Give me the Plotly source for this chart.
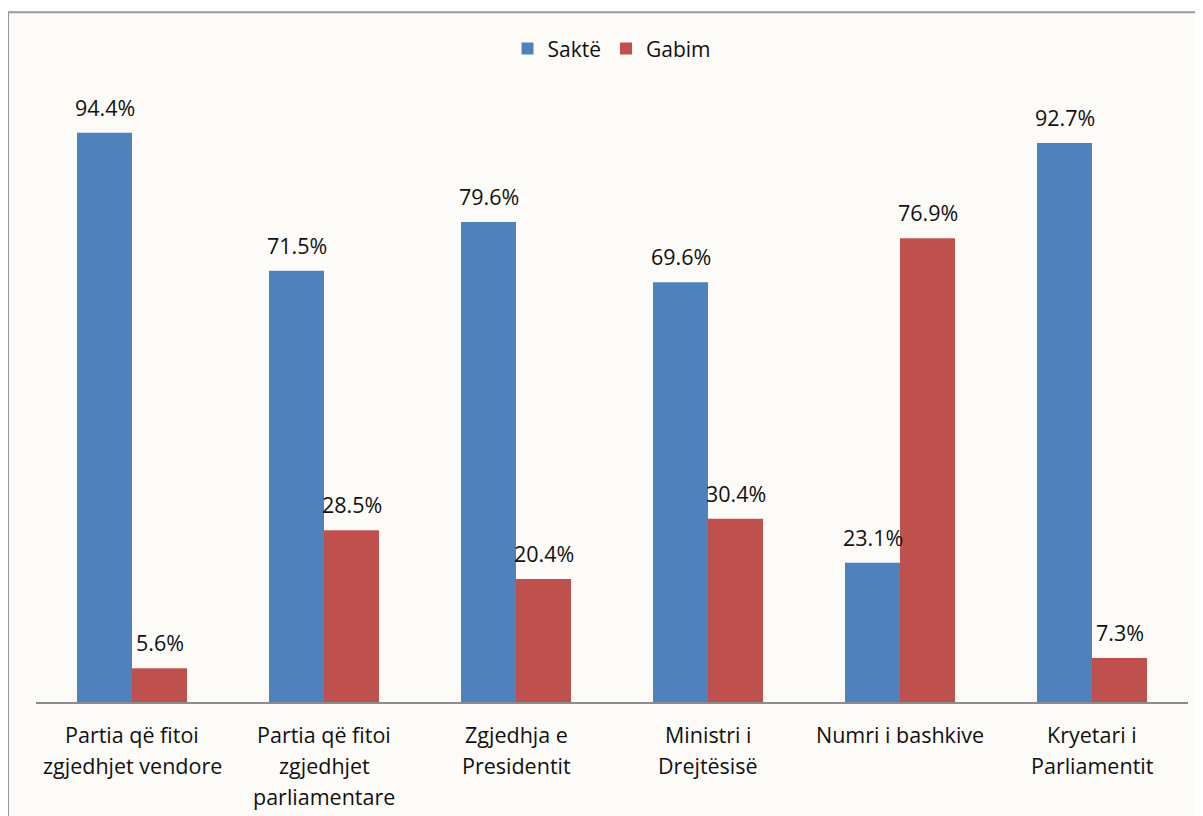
import plotly.graph_objects as go

categories = [
    "Partia që fitoi<br>zgjedhjet vendore",
    "Partia që fitoi<br>zgjedhjet<br>parliamentare",
    "Zgjedhja e<br>Presidentit",
    "Ministri i<br>Drejtësisë",
    "Numri i bashkive",
    "Kryetari i<br>Parliamentit",
]
sakte = [94.4, 71.5, 79.6, 69.6, 23.1, 92.7]
gabim = [5.6, 28.5, 20.4, 30.4, 76.9, 7.3]

BLUE = "#4F81BD"
RED = "#C0504D"
BG = "#FCFBF8"
FONT = "Open Sans"
TXT = "#111111"

fig = go.Figure()
fig.add_trace(go.Bar(name="Saktë", x=categories, y=sakte, marker_color=BLUE,
                     marker_line_width=0))
fig.add_trace(go.Bar(name="Gabim", x=categories, y=gabim, marker_color=RED,
                     marker_line_width=0))

annotations = []
# data labels
for series, shift in ((sakte, -27.5), (gabim, 27.5)):
    for c, v in zip(categories, series):
        annotations.append(dict(x=c, y=v, xref="x", yref="y", text=f"{v:.1f}%",
                                showarrow=False, xshift=shift, yanchor="bottom",
                                yshift=9, font=dict(family=FONT, size=21.5, color=TXT)))
# category labels (multi-line with wider spacing)
for c in categories:
    for i, line in enumerate(c.split("<br>")):
        annotations.append(dict(x=c, y=0, xref="x", yref="paper", text=line,
                                showarrow=False, yanchor="middle", yshift=-32 - 31 * i,
                                font=dict(family=FONT, size=21.5, color=TXT)))

fig.update_layout(
    width=1203, height=816,
    margin=dict(l=28, r=23, t=91, b=122),
    paper_bgcolor=BG, plot_bgcolor=BG,
    barmode="group", bargap=0.427, bargroupgap=0,
    font=dict(family=FONT, size=21, color=TXT),
    legend=dict(orientation="h", x=0.5, xanchor="center", y=1.083, yanchor="middle",
                font=dict(family=FONT, size=21), itemwidth=30, bgcolor="rgba(0,0,0,0)"),
    annotations=annotations,
    shapes=[dict(type="rect", xref="paper", yref="paper", x0=-0.0243, x1=1.2,
                 y0=-0.5, y1=1.144, line=dict(color="#9A9A9A", width=2),
                 fillcolor="rgba(0,0,0,0)", layer="below")],
)
fig.update_xaxes(showticklabels=False, showline=True, linecolor="#8C8C8C", linewidth=2,
                 ticks="", showgrid=False)
fig.update_yaxes(range=[0, 100], visible=False, showgrid=False, zeroline=False)

fig.write_html("out.html")
